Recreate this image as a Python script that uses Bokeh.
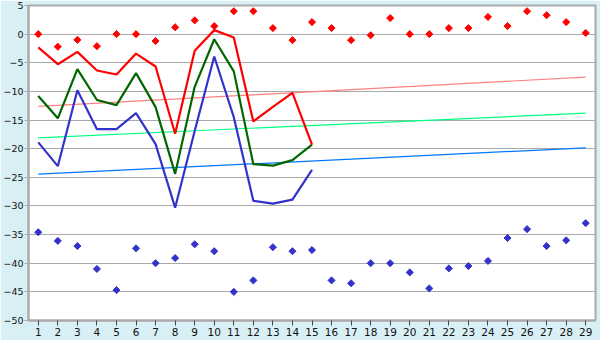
import math
from bokeh.plotting import figure
from bokeh.models import FixedTicker, Range1d, CustomJSTickFormatter
from bokeh.embed import file_html
from bokeh.resources import INLINE

days = list(range(1, 30))
days15 = list(range(1, 16))

red_line = [-2.3, -5.25, -3.1, -6.35, -7.05, -3.4, -5.65, -17.4, -2.9, 0.7, -0.6, -15.25, -12.7, -10.25, -19.3]
green_line = [-10.8, -14.7, -6.1, -11.5, -12.4, -6.8, -12.75, -24.4, -9.2, -0.9, -6.5, -22.7, -22.95, -22.0, -19.3]
blue_line = [-18.9, -23.05, -9.8, -16.6, -16.6, -13.8, -19.2, -30.3, -16.9, -3.9, -14.5, -29.1, -29.6, -28.9, -23.7]

red_pts = [0, -2.2, -1.0, -2.1, 0, 0, -1.2, 1.2, 2.4, 1.4, 4.0, 4.0, 1.05, -1.05, 2.1,
           1.05, -1.05, -0.2, 2.8, 0, 0, 1.05, 1.05, 3.0, 1.4, 4.0, 3.3, 2.1, 0.2]
blue_pts = [-34.6, -36.1, -37.0, -41.0, -44.7, -37.4, -40.0, -39.1, -36.7, -37.9, -45.0, -43.0, -37.2, -37.9, -37.7,
            -43.0, -43.5, -40.0, -40.0, -41.6, -44.4, -40.9, -40.5, -39.6, -35.6, -34.05, -37.0, -36.0, -33.0]

trend_x = [1, 29]
red_trend = [-12.6, -7.5]
green_trend = [-18.1, -13.8]
blue_trend = [-24.45, -19.85]

y_ticks = list(range(-50, 6, 5))

p = figure(width=600, height=340, output_backend="svg", toolbar_location=None,
           x_range=Range1d(0.5, 29.5), y_range=Range1d(-50, 5),
           min_border_left=26, min_border_right=5, min_border_top=5, min_border_bottom=20)
p.background_fill_color = "white"
p.border_fill_color = "#d9eff6"
p.outline_line_color = "#aaaaaa"
p.outline_line_width = 2

p.xaxis.ticker = FixedTicker(ticks=days)
p.yaxis.ticker = FixedTicker(ticks=y_ticks)
p.yaxis.formatter = CustomJSTickFormatter(code="return tick < 0 ? '\u2212' + Math.abs(tick) : tick.toString();")
for ax in (p.xaxis[0], p.yaxis[0]):
    ax.axis_line_color = "#aaaaaa"
    ax.axis_line_width = 2
    ax.major_tick_line_color = "#444444"
    ax.major_tick_in = 0
    ax.major_tick_out = 5
    ax.minor_tick_line_color = None
    ax.major_label_text_font = "DejaVu Sans"
    ax.major_label_text_font_size = "10.5px"
    ax.major_label_text_color = "#111111"
    ax.major_label_standoff = 2
p.yaxis.major_tick_out = 4
p.yaxis.major_label_standoff = 1
p.yaxis.major_label_text_font_size = "9.5px"
p.yaxis.major_tick_line_color = "#aaaaaa"

p.xgrid.grid_line_color = None
p.ygrid.ticker = FixedTicker(ticks=y_ticks)
p.ygrid.grid_line_color = "#aaaaaa"
p.ygrid.grid_line_width = 1

p.line(trend_x, red_trend, line_color="#ff8080", line_width=1.2)
p.line(trend_x, green_trend, line_color="#00ff80", line_width=1.2)
p.line(trend_x, blue_trend, line_color="#0077ff", line_width=1.2)

p.line(days15, blue_line, line_color="#3333cc", line_width=2.2)
p.line(days15, green_line, line_color="#006600", line_width=2.2)
p.line(days15, red_line, line_color="#ff0000", line_width=2.2)

p.scatter(days, red_pts, marker="square", size=5, angle=math.pi / 4, fill_color="#ff0000", line_color="#ff0000")
p.scatter(days, blue_pts, marker="square", size=5, angle=math.pi / 4, fill_color="#3333cc", line_color="#3333cc")

open("out.html", "w").write(file_html(p, INLINE))
